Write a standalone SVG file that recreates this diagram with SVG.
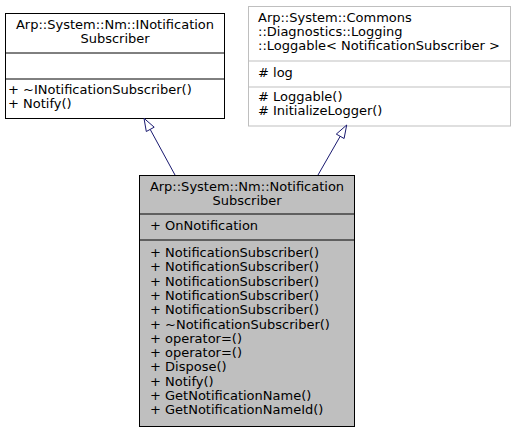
<svg xmlns="http://www.w3.org/2000/svg" width="517" height="433" viewBox="0 0 517 433">
<style>
text{font-family:"DejaVu Sans","Liberation Sans",sans-serif;font-size:13px;fill:#000}
.c{text-anchor:middle}
.box{fill:#fff;stroke:#000;stroke-width:1}
.grey{fill:#fff;stroke:#bfbfbf;stroke-width:1}
.cur{fill:#bfbfbf;stroke:#000;stroke-width:1}
.sep{stroke:#000;stroke-width:1}
.sepg{stroke:#bfbfbf;stroke-width:1}
.edge{fill:none;stroke:#191970;stroke-width:1}
.head{fill:#fff;stroke:#191970;stroke-width:1}
</style>
<rect width="517" height="433" fill="#fff"/>
<g id="node-INotificationSubscriber">
<rect class="box" x="5.5" y="13.5" width="219" height="105"/>
<line class="sep" x1="5.5" y1="53" x2="224.5" y2="53"/>
<line class="sep" x1="5.5" y1="79" x2="224.5" y2="79"/>
<text class="c" x="115" y="28.5">Arp::System::Nm::INotification</text>
<text class="c" x="115" y="43">Subscriber</text>
<text x="8" y="93.5">+ ~INotificationSubscriber()</text>
<text x="8" y="107.8">+ Notify()</text>
</g>
<g id="node-Loggable">
<rect class="grey" x="248.5" y="6.5" width="262" height="119.5"/>
<line class="sepg" x1="248.5" y1="61" x2="510.5" y2="61"/>
<line class="sepg" x1="248.5" y1="87" x2="510.5" y2="87"/>
<text x="258" y="21.8">Arp::System::Commons</text>
<text x="258" y="36.1">::Diagnostics::Logging</text>
<text x="258" y="50.4">::Loggable&lt; NotificationSubscriber &gt;</text>
<text x="258" y="77.3">#  log</text>
<text x="258" y="101">#  Loggable()</text>
<text x="258" y="115.3">#  InitializeLogger()</text>
</g>
<g id="node-NotificationSubscriber">
<rect class="cur" x="139.5" y="175.5" width="215" height="251"/>
<line class="sep" x1="139.5" y1="214" x2="354.5" y2="214"/>
<line class="sep" x1="139.5" y1="240" x2="354.5" y2="240"/>
<text class="c" x="247" y="190.7">Arp::System::Nm::Notification</text>
<text class="c" x="247" y="205">Subscriber</text>
<text x="150" y="230">+ OnNotification</text>
<text x="150" y="257">+ NotificationSubscriber()</text>
<text x="150" y="271.3">+ NotificationSubscriber()</text>
<text x="150" y="285.6">+ NotificationSubscriber()</text>
<text x="150" y="299.9">+ NotificationSubscriber()</text>
<text x="150" y="314.2">+ NotificationSubscriber()</text>
<text x="150" y="328.5">+ ~NotificationSubscriber()</text>
<text x="150" y="342.8">+ operator=()</text>
<text x="150" y="357.1">+ operator=()</text>
<text x="150" y="371.4">+ Dispose()</text>
<text x="150" y="385.7">+ Notify()</text>
<text x="150" y="400">+ GetNotificationName()</text>
<text x="150" y="414.3">+ GetNotificationNameId()</text>
</g>
<g id="connectors">
<path class="edge" d="M175,175 L150.2,129.4"/>
<polygon class="head" points="144,118.3 154.2,127.2 146.3,131.5"/>
<path class="edge" d="M318,175 L340.2,136.3"/>
<polygon class="head" points="346.7,125 344.1,138.5 336.3,134.1"/>
</g>
</svg>
